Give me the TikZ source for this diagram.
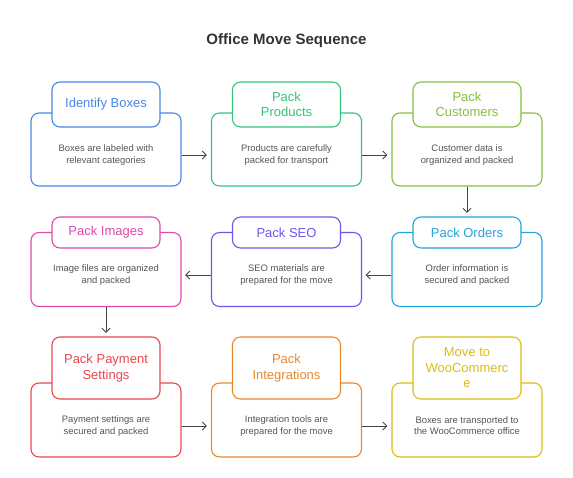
\documentclass[tikz,border=0pt]{standalone}
\usepackage{fontspec}
\setmainfont{Liberation Sans}
\usetikzlibrary{arrows.meta}

\definecolor{cBlue}{HTML}{4A86E8}
\definecolor{cGreen}{HTML}{34C47C}
\definecolor{cLime}{HTML}{86BF3E}
\definecolor{cPink}{HTML}{E04AAE}
\definecolor{cPurple}{HTML}{7256E8}
\definecolor{cCyan}{HTML}{22A4DC}
\definecolor{cRed}{HTML}{E8474D}
\definecolor{cOrange}{HTML}{E8892E}
\definecolor{cYellow}{HTML}{DDBD12}
\definecolor{descgray}{HTML}{555555}
\definecolor{titlegray}{HTML}{333333}
\definecolor{arrowgray}{HTML}{444444}

\tikzset{
  body/.style={draw=#1, fill=white, rounded corners=8pt, line width=1.1pt,
    minimum width=150pt, minimum height=74pt, inner sep=0pt},
  head/.style={draw=#1, text=#1, fill=white, rounded corners=8pt, line width=1.1pt,
    minimum width=108pt, inner sep=0pt, align=center,
    font=\fontsize{13}{15.5}\selectfont},
  desc/.style={align=center, text=descgray, font=\fontsize{9.4}{11.2}\selectfont},
  flow/.style={draw=arrowgray, line width=1pt, -{Straight Barb[length=4pt,width=8pt]}}
}

\begin{document}
\begin{tikzpicture}[x=1pt,y=-1pt]
			%%%%% START %%%%%
			\useasboundingbox[fill=white] (0,0) rectangle (573,477);
			
			\node[font=\bfseries\fontsize{15}{18}\selectfont, text=titlegray] (title) at (286.5,41) {Office Move Sequence};
			
			% row 1
			\node[body=cBlue, minimum height=73pt] (ident-box) at (106,149.5) {};
			\node[head=cBlue, minimum height=45pt] (ident-head) at (106,104.5) {Identify Boxes};
			\node[desc] (ident-txt) at (106,155) {Boxes are labeled with\\relevant categories};
			
			\node[body=cGreen, minimum height=73pt] (prod-box) at (286.5,149.5) {};
			\node[head=cGreen, minimum height=45pt] (prod-head) at (286.5,104.5) {Pack\\Products};
			\node[desc] (prod-txt) at (286.5,155) {Products are carefully\\packed for transport};
			
			\node[body=cLime, minimum height=73pt] (cust-box) at (467,149.5) {};
			\node[head=cLime, minimum height=45pt] (cust-head) at (467,104.5) {Pack\\Customers};
			\node[desc] (cust-txt) at (467,155) {Customer data is\\organized and packed};
			
			% row 2
			\node[body=cPink] (images-box) at (106,269.5) {};
			\node[head=cPink, minimum height=31pt] (images-head) at (106,232.5) {Pack Images};
			\node[desc] (images-txt) at (106,275) {Image files are organized\\and packed};
			
			\node[body=cPurple] (seo-box) at (286.5,269.5) {};
			\node[head=cPurple, minimum height=31pt] (seo-head) at (286.5,232.5) {Pack SEO};
			\node[desc] (seo-txt) at (286.5,275) {SEO materials are\\prepared for the move};
			
			\node[body=cCyan] (orders-box) at (467,269.5) {};
			\node[head=cCyan, minimum height=31pt] (orders-head) at (467,232.5) {Pack Orders};
			\node[desc] (orders-txt) at (467,275) {Order information is\\secured and packed};
			
			% row 3
			\node[body=cRed] (pay-box) at (106,420) {};
			\node[head=cRed, minimum height=62pt] (pay-head) at (106,368) {Pack Payment\\Settings};
			\node[desc] (pay-txt) at (106,426) {Payment settings are\\secured and packed};
			
			\node[body=cOrange] (integ-box) at (286.5,420) {};
			\node[head=cOrange, minimum height=62pt] (integ-head) at (286.5,368) {Pack\\Integrations};
			\node[desc] (integ-txt) at (286.5,426) {Integration tools are\\prepared for the move};
			
			\node[body=cYellow] (move-box) at (467,420) {};
			\node[head=cYellow, minimum height=62pt] (move-head) at (467,368) {Move to\\WooCommerc\\e};
			\node[desc] (move-txt) at (467,426) {Boxes are transported to\\the WooCommerce office};
			
			% arrows
			\draw[flow, shorten >=4pt] (ident-txt -| ident-box.east) -- (prod-txt -| prod-box.west);
			\draw[flow, shorten >=4pt] (prod-txt -| prod-box.east) -- (cust-txt -| cust-box.west);
			\draw[flow, shorten >=3.5pt] (cust-box.south) -- (orders-head.north);
			\draw[flow, shorten >=3.5pt] (orders-txt -| orders-box.west) -- (seo-txt -| seo-box.east);
			\draw[flow, shorten >=3.5pt] (seo-txt -| seo-box.west) -- (images-txt -| images-box.east);
			\draw[flow, shorten >=3.5pt] (images-box.south) -- (pay-head.north);
			\draw[flow, shorten >=4pt] (pay-txt -| pay-box.east) -- (integ-txt -| integ-box.west);
			\draw[flow, shorten >=4pt] (integ-txt -| integ-box.east) -- (move-txt -| move-box.west);
			
			%%%%% END %%%%%
		\end{tikzpicture}
\end{document}
